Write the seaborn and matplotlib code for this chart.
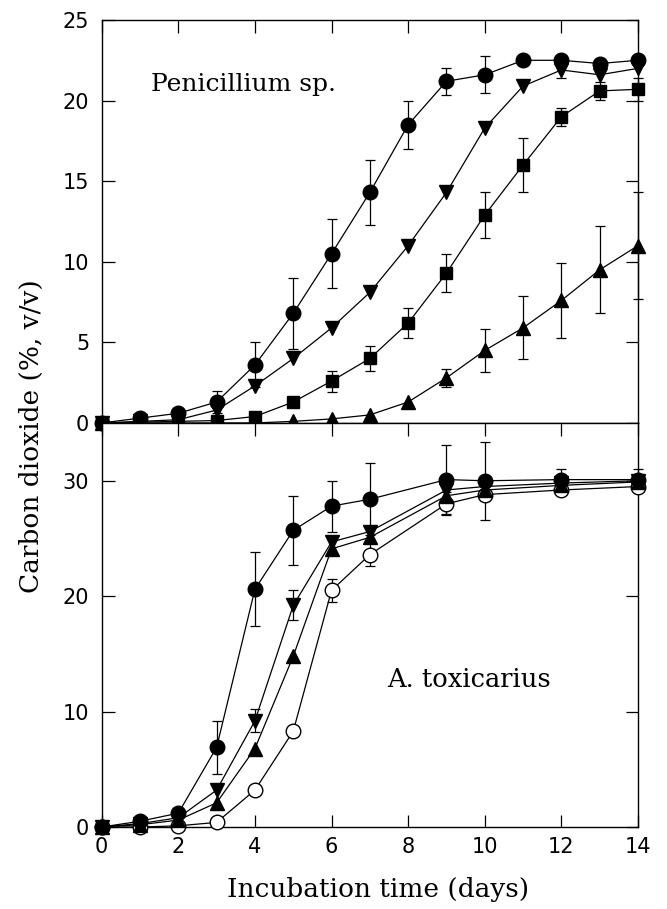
import matplotlib
matplotlib.use("Agg")
import matplotlib.pyplot as plt
import seaborn as sns
import numpy as np
import pandas as pd

# ---- data ----
days_top = [0, 1, 2, 3, 4, 5, 6, 7, 8, 9, 10, 11, 12, 13, 14]
pen_circle = [0, 0.3, 0.6, 1.3, 3.6, 6.8, 10.5, 14.3, 18.5, 21.2, 21.6, 22.5, 22.5, 22.3, 22.5]
pen_circle_err = [0, 0, 0, 0.7, 1.4, 2.2, 2.15, 2.0, 1.5, 0.85, 1.15, 0, 0, 0, 0]
pen_down = [0, 0.1, 0.2, 0.8, 2.3, 4.0, 5.9, 8.1, 11.0, 14.3, 18.3, 20.9, 21.9, 21.6, 22.0]
pen_down_err = [0, 0, 0, 0, 0, 0, 0, 0, 0, 0, 0, 0, 0.5, 0, 0]
pen_square = [0, 0.05, 0.1, 0.15, 0.4, 1.3, 2.6, 4.0, 6.2, 9.3, 12.9, 16.0, 19.0, 20.6, 20.7]
pen_square_err = [0, 0, 0, 0, 0, 0, 0.65, 0.8, 0.95, 1.2, 1.4, 1.65, 0.55, 0.55, 0.7]
pen_up = [0, 0, 0, 0, 0, 0.1, 0.25, 0.5, 1.3, 2.8, 4.5, 5.9, 7.6, 9.5, 11.0]
pen_up_err = [0, 0, 0, 0, 0, 0, 0, 0, 0, 0.55, 1.35, 1.95, 2.3, 2.7, 3.3]

days_bot = [0, 1, 2, 3, 4, 5, 6, 7, 9, 10, 12, 14]
tox_circle = [0, 0.5, 1.2, 6.9, 20.6, 25.7, 27.8, 28.4, 30.1, 30.0, 30.1, 30.1]
tox_circle_err = [0, 0, 0, 2.3, 3.2, 3.0, 2.2, 3.1, 3.0, 3.4, 0.9, 0.9]
tox_down = [0, 0.3, 0.8, 3.2, 9.2, 19.2, 24.7, 25.6, 29.2, 29.5, 29.8, 30.0]
tox_down_err = [0, 0, 0, 0, 1.0, 1.3, 0, 0, 0, 0, 0, 0]
tox_up = [0, 0.2, 0.6, 2.1, 6.8, 14.8, 24.1, 25.1, 28.7, 29.2, 29.6, 29.9]
tox_up_err = [0] * 12
tox_open = [0, 0, 0.1, 0.4, 3.2, 8.3, 20.5, 23.6, 28.0, 28.8, 29.2, 29.5]
tox_open_err = [0, 0, 0, 0, 0, 0, 1.0, 1.0, 1.0, 0.5, 0, 0]

sns.set_style("ticks")
plt.rcParams["font.family"] = ["DejaVu Sans"]
plt.rcParams["xtick.direction"] = "in"
plt.rcParams["ytick.direction"] = "in"
for key in ("text.color", "axes.labelcolor", "axes.edgecolor",
            "xtick.color", "ytick.color"):
    plt.rcParams[key] = "black"

fig = plt.figure(figsize=(6.67, 9.09), dpi=100)
ax_top = fig.add_axes([0.1525, 0.5347, 0.804, 0.4433])
ax_bot = fig.add_axes([0.1525, 0.0902, 0.804, 0.4444])


def draw_series(ax, days, vals, err, marker, ms, fc="k"):
    sns.lineplot(x=days, y=vals, ax=ax, color="k", lw=0.9, marker=marker,
                 markersize=ms, markerfacecolor=fc, markeredgecolor="k",
                 markeredgewidth=1.0, clip_on=False, zorder=3, errorbar=None)
    d = np.array(days, dtype=float)
    v = np.array(vals, dtype=float)
    e = np.array(err, dtype=float)
    m = e > 0
    if m.any():
        ax.errorbar(d[m], v[m], yerr=e[m], fmt="none", ecolor="k",
                    elinewidth=0.9, capsize=3.5, capthick=0.9, zorder=2,
                    clip_on=False)


draw_series(ax_top, days_top, pen_up, pen_up_err, "^", 10)
draw_series(ax_top, days_top, pen_square, pen_square_err, "s", 8.5)
draw_series(ax_top, days_top, pen_down, pen_down_err, "v", 10)
draw_series(ax_top, days_top, pen_circle, pen_circle_err, "o", 10.5)

draw_series(ax_bot, days_bot, tox_open, tox_open_err, "o", 10.5, fc="white")
draw_series(ax_bot, days_bot, tox_up, tox_up_err, "^", 10)
draw_series(ax_bot, days_bot, tox_down, tox_down_err, "v", 10)
draw_series(ax_bot, days_bot, tox_circle, tox_circle_err, "o", 10.5)

for ax in (ax_top, ax_bot):
    ax.set_xlim(0, 14)
    ax.set_xticks(range(0, 15, 2))
    ax.tick_params(axis="both", which="both", direction="in", length=9,
                   width=0.9, top=True, right=True, labelsize=15, pad=9,
                   colors="black")
    for s in ax.spines.values():
        s.set_linewidth(1.0)
        s.set_color("black")
    ax.set_xlabel("")
    ax.set_ylabel("")

ax_top.set_ylim(0, 25)
ax_top.set_yticks([0, 5, 10, 15, 20, 25])
ax_top.tick_params(axis="x", labelbottom=False, bottom=False)
ax_bot.set_ylim(0, 35)
ax_bot.set_yticks([0, 10, 20, 30])
ax_bot.tick_params(axis="x", pad=7)

serif = ["DejaVu Serif"]
ax_top.text(3.7, 21.0, "Penicillium sp.", family=serif, fontsize=18,
            ha="center", va="center", color="black")
ax_bot.text(9.6, 12.8, "A. toxicarius", family=serif, fontsize=18.5,
            ha="center", va="center", color="black")

fig.text(0.047, 0.52, "Carbon dioxide (%, v/v)", family=serif, fontsize=19,
         rotation=90, ha="center", va="center", color="black")
fig.text(0.567, 0.021, "Incubation time (days)", family=serif, fontsize=19,
         ha="center", va="center", color="black")

fig.savefig("out.png", dpi=100)
